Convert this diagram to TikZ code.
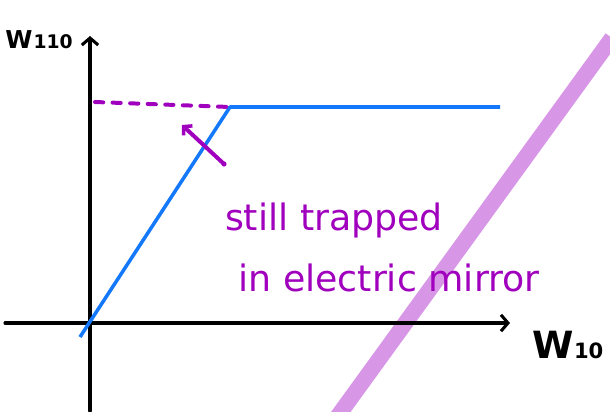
\documentclass[tikz,border=0pt]{standalone}
\usepackage{fontspec}
\setmainfont{DejaVu Sans}
\usetikzlibrary{arrows.meta}
\definecolor{axisblue}{RGB}{20,120,250}
\definecolor{penpurple}{RGB}{160,0,190}
\definecolor{bandpink}{RGB}{216,150,230}
\tikzset{
  axisline/.style={line width=2.6pt, line cap=round, -{Straight Barb[length=6pt,width=14pt,line width=2.6pt]}},
  curveline/.style={line width=3pt, color=axisblue, line join=round},
  penline/.style={line width=3.4pt, color=penpurple, line cap=round},
  lbl/.style={inner sep=0pt, font=\bfseries\fontsize{21}{24}\selectfont},
  note/.style={inner sep=0pt, color=penpurple, font=\fontsize{31}{36}\selectfont}
}
\begin{document}
\begin{tikzpicture}[x=0.03cm,y=-0.03cm]
\useasboundingbox (0,0) rectangle (610,411);
\clip (0,0) rectangle (610,411);
% mirror band
\coordinate (b1) at (335,420);
\coordinate (b2) at (612,38);
\draw[line width=13.5pt, color=bandpink] (b1) -- (b2);
% axes
\coordinate (ybot) at (90,411);
\coordinate (ytop) at (90,36);
\coordinate (xl) at (5,323);
\coordinate (xr) at (510,323);
\draw[axisline] (ybot) -- (ytop);
\draw[axisline] (xl) -- (xr);
\node[lbl] (wy) at (39,40) {W\kern1pt{\fontsize{16}{18}\selectfont 110}};
\node[lbl] (wx) at (568,345) {{\fontsize{32}{36}\selectfont W}{\fontsize{18}{20}\selectfont 10}};
% blue curve
\coordinate (c0) at (80,337);
\coordinate (c1) at (230,107);
\coordinate (c2) at (500,107);
\draw[curveline] (c0) -- (c1) -- (c2);
% dashed purple
\coordinate (d0) at (95,102);
\draw[penline, dash pattern=on 7pt off 8pt] (d0) -- (c1);
% arrow
\coordinate (a0) at (224,164);
\coordinate (a1) at (182,125);
\draw[penline, -{Straight Barb[length=5pt,width=11pt,line width=3pt]}] (a0) -- (a1);
\fill[penpurple] (a0) circle (2.2pt);
% note
\node[note] (n1) at (334,220) {still trapped};
\node[note] (n2) at (389,278) {in electric mirror};
\end{tikzpicture}
\end{document}
